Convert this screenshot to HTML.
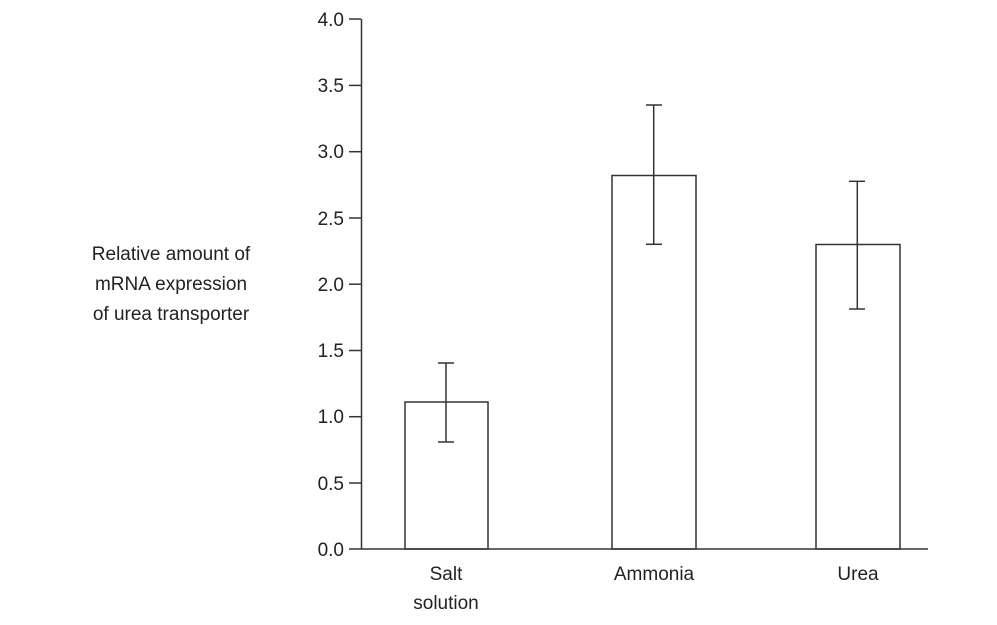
<!DOCTYPE html>
<html><head><style>body{margin:0;background:#fff}svg{display:block}text{font-family:"Liberation Sans",sans-serif;fill:#222}</style></head>
<body>
<svg width="997" height="625" viewBox="0 0 997 625">
<g stroke="#333" stroke-width="1.5" fill="none">
<line x1="361.5" y1="19" x2="361.5" y2="549"/>
<line x1="361" y1="549" x2="928" y2="549"/>
<line x1="349" y1="19" x2="361" y2="19"/>
<line x1="349" y1="85.4" x2="361" y2="85.4"/>
<line x1="349" y1="151.7" x2="361" y2="151.7"/>
<line x1="349" y1="218" x2="361" y2="218"/>
<line x1="349" y1="284.2" x2="361" y2="284.2"/>
<line x1="349" y1="350.5" x2="361" y2="350.5"/>
<line x1="349" y1="416.7" x2="361" y2="416.7"/>
<line x1="349" y1="483" x2="361" y2="483"/>
<line x1="349" y1="549" x2="361" y2="549"/>
<rect x="405" y="402" width="83" height="147"/>
<rect x="612" y="175.5" width="84" height="373.5"/>
<rect x="816" y="244.5" width="84" height="304.5"/>
<line x1="446" y1="363" x2="446" y2="442"/><line x1="438" y1="363" x2="454" y2="363"/><line x1="438" y1="442" x2="454" y2="442"/>
<line x1="653.7" y1="105" x2="653.7" y2="244.3"/><line x1="646" y1="105" x2="662" y2="105"/><line x1="646" y1="244.3" x2="662" y2="244.3"/>
<line x1="857.3" y1="181.3" x2="857.3" y2="309"/><line x1="849" y1="181.3" x2="865" y2="181.3"/><line x1="849" y1="309" x2="865" y2="309"/>
</g>
<g font-size="19" text-anchor="end">
<text x="344" y="26">4.0</text><text x="344" y="92">3.5</text><text x="344" y="158">3.0</text><text x="344" y="225">2.5</text><text x="344" y="291">2.0</text><text x="344" y="357">1.5</text><text x="344" y="423">1.0</text><text x="344" y="490">0.5</text><text x="344" y="556">0.0</text>
</g>
<g font-size="19" text-anchor="middle">
<text x="446" y="580">Salt</text><text x="446" y="609">solution</text>
<text x="654" y="580">Ammonia</text><text x="858" y="580">Urea</text>
<text x="171" y="260">Relative amount of</text>
<text x="171" y="290">mRNA expression</text>
<text x="171" y="320">of urea transporter</text>
</g>
</svg>
</body></html>
